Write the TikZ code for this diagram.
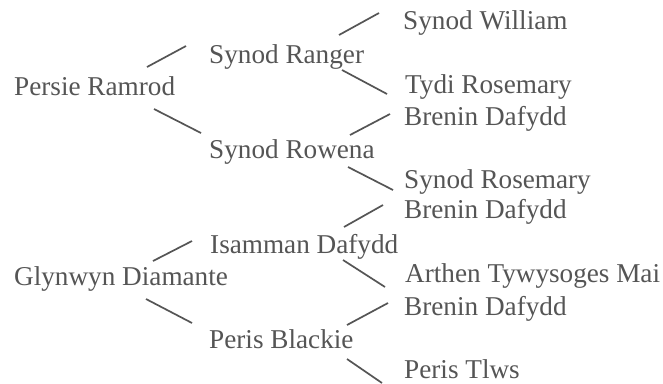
\documentclass[tikz,border=0pt]{standalone}
\usepackage{fontspec}
\setmainfont{Liberation Serif}
\definecolor{ink}{HTML}{555555}
\begin{document}
\begin{tikzpicture}[x=1bp,y=-1bp,
  pname/.style={anchor=base west,inner sep=0pt,text=ink,font=\fontsize{27.3}{29}\selectfont},
  link/.style={draw=ink,line width=1.7bp}]
\useasboundingbox[fill=white] (0,0) rectangle (663,383);
% generation 1
\node[pname] (pr) at (14,95) {Persie Ramrod};
\node[pname] (gd) at (14,285) {Glynwyn Diamante};
% generation 2
\node[pname] (sra) at (209,63) {Synod Ranger};
\node[pname] (sro) at (209,158) {Synod Rowena};
\node[pname] (id) at (210,253) {Isamman Dafydd};
\node[pname] (pb) at (209,348) {Peris Blackie};
% generation 3
\node[pname] (sw) at (403,29) {Synod William};
\node[pname] (tr) at (405,93) {Tydi Rosemary};
\node[pname] (bd1) at (404,125) {Brenin Dafydd};
\node[pname] (sros) at (404,188) {Synod Rosemary};
\node[pname] (bd2) at (404,218) {Brenin Dafydd};
\node[pname] (at) at (405,282) {Arthen Tywysoges Mai};
\node[pname] (bd3) at (404,315) {Brenin Dafydd};
\node[pname] (pt) at (404,378) {Peris Tlws};
% connector ends
\coordinate (a1) at (147,67);  \coordinate (a2) at (186,46);
\coordinate (b1) at (154,109); \coordinate (b2) at (201,133);
\coordinate (c1) at (339,35);  \coordinate (c2) at (379,13);
\coordinate (d1) at (342,70);  \coordinate (d2) at (387,94);
\coordinate (e1) at (350,135); \coordinate (e2) at (390,114);
\coordinate (f1) at (348,167); \coordinate (f2) at (393,190);
\coordinate (g1) at (153,261); \coordinate (g2) at (192,241);
\coordinate (h1) at (146,299); \coordinate (h2) at (192,323);
\coordinate (i1) at (344,227); \coordinate (i2) at (383,205);
\coordinate (j1) at (343,260); \coordinate (j2) at (385,287);
\coordinate (k1) at (347,325); \coordinate (k2) at (388,303);
\coordinate (l1) at (347,359); \coordinate (l2) at (382,383);
\foreach \p in {a,b,c,d,e,f,g,h,i,j,k,l}{\draw[link] (\p1) -- (\p2);}
\end{tikzpicture}
\end{document}
